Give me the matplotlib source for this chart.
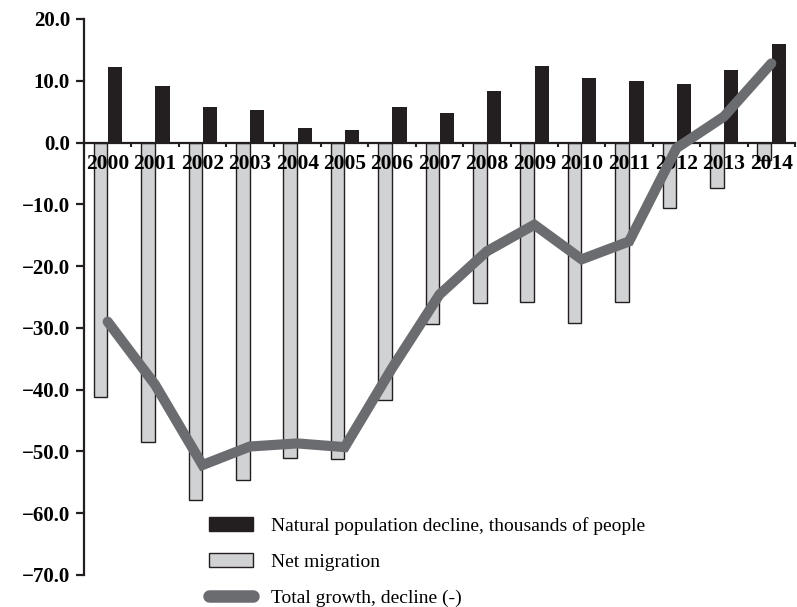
import matplotlib
matplotlib.use("Agg")
import matplotlib.pyplot as plt
import numpy as np
from matplotlib.patches import Patch
from matplotlib.lines import Line2D

years = ["2000", "2001", "2002", "2003", "2004", "2005", "2006", "2007",
         "2008", "2009", "2010", "2011", "2012", "2013", "2014"]
natural = [12.2, 9.2, 5.7, 5.3, 2.3, 2.1, 5.8, 4.8, 8.3, 12.4, 10.5, 10.0, 9.4, 11.8, 15.9]
migration = [-41.2, -48.5, -57.8, -54.6, -51.1, -51.3, -41.6, -29.3, -25.9, -25.8,
             -29.2, -25.8, -10.6, -7.3, -2.8]
total = [-29.0, -39.2, -52.2, -49.2, -48.7, -49.3, -36.5, -24.6, -17.6, -13.3,
         -18.9, -16.0, -0.9, 4.2, 12.8]
yticks = [20, 10, 0, -10, -20, -30, -40, -50, -60, -70]
legend_labels = ["Natural population decline, thousands of people",
                 "Net migration", "Total growth, decline (-)"]

BLACK = "#231f20"
GREY = "#d1d2d4"
LINEC = "#6b6c70"

fig = plt.figure(figsize=(7.97, 6.07), dpi=100)
ax = fig.add_axes([84/797, 1-575/607, 711/797, 556/607])

x = np.arange(len(years))
ax.bar(x - 0.15, migration, width=0.29, color=GREY, edgecolor=BLACK, linewidth=1.0, zorder=2)
ax.bar(x + 0.155, natural, width=0.30, color=BLACK, edgecolor="none", zorder=2)
ax.plot(x, total, color=LINEC, linewidth=7.3, solid_capstyle="round",
        solid_joinstyle="miter", zorder=4)

ax.set_xlim(-0.5, len(years) - 0.5)
ax.set_ylim(-70, 20)

for s in ["top", "right"]:
    ax.spines[s].set_visible(False)
ax.spines["bottom"].set_position(("data", 0))
ax.spines["bottom"].set_linewidth(1.6)
ax.spines["bottom"].set_color(BLACK)
ax.spines["bottom"].set_zorder(3)
ax.spines["left"].set_linewidth(1.6)
ax.spines["left"].set_color(BLACK)

ax.set_yticks(yticks)
ax.set_yticklabels([f"{v:.1f}".replace("-", "\u2212") for v in yticks],
                   fontfamily="Liberation Serif", fontweight="bold", fontsize=15)
ax.tick_params(axis="y", direction="out", length=6, width=1.6, color=BLACK, pad=4)

ax.set_xticks(x)
ax.set_xticklabels(years, fontfamily="Liberation Serif", fontweight="bold", fontsize=15.5)
ax.tick_params(axis="x", which="major", length=0, pad=8.5)
ax.set_xticks(np.arange(len(years) + 1) - 0.5, minor=True)
ax.tick_params(axis="x", which="minor", direction="out", length=3, width=1.5, color=BLACK)
ax.xaxis.set_zorder(3)

handles = [Patch(facecolor=BLACK, edgecolor=BLACK, linewidth=1.0),
           Patch(facecolor=GREY, edgecolor=BLACK, linewidth=1.0),
           Line2D([0], [0], color=LINEC, linewidth=9, solid_capstyle="round")]
leg = fig.legend(handles, legend_labels, loc="upper left",
                 bbox_to_anchor=(201/797, 1-509/607), frameon=False,
                 prop={"family": "Liberation Serif", "size": 14},
                 handlelength=2.3, handleheight=0.75, handletextpad=0.9,
                 labelspacing=0.95, borderaxespad=0)

fig.savefig("out.png", dpi=100)
